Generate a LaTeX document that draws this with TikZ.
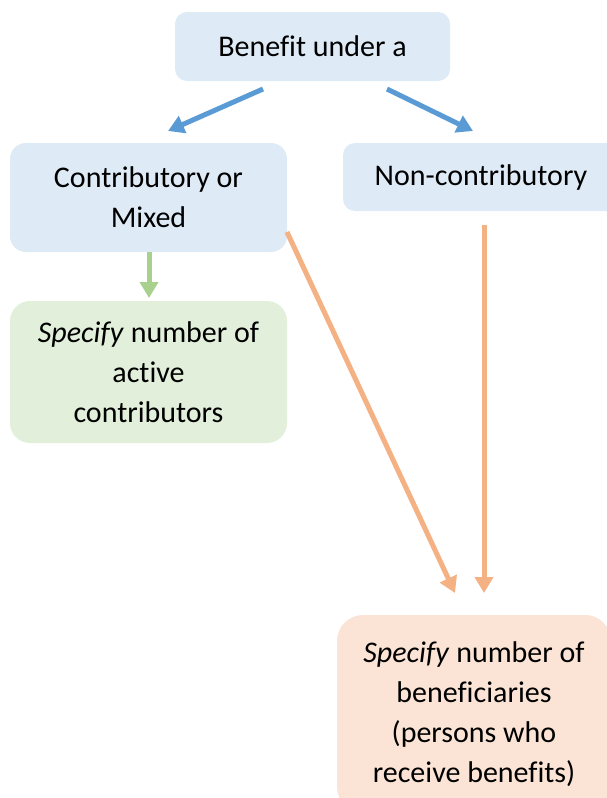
\documentclass[tikz,border=0pt]{standalone}
\usepackage{fontspec}
\setmainfont[Ligatures=CommonOff]{Carlito}
\usetikzlibrary{arrows.meta}

\definecolor{boxblue}{HTML}{DEEAF6}
\definecolor{boxgreen}{HTML}{E2EFDA}
\definecolor{boxorange}{HTML}{FBE4D5}
\definecolor{lineblue}{HTML}{5B9BD5}
\definecolor{linegreen}{HTML}{A9D18E}
\definecolor{lineorange}{HTML}{F4B183}

\begin{document}
\begin{tikzpicture}[x=1pt,y=-1pt,
    box/.style={rounded corners=12pt,align=center,inner sep=0pt,
        font=\fontsize{30}{40}\selectfont},
    link/.style={line width=5pt,-{Triangle[length=16pt,width=18pt]}}]
    \useasboundingbox (0,0) rectangle (606,798);
    % boxes
    \node[box,fill=boxblue,minimum width=275pt,minimum height=69pt] (benefit) at (312.5,46.5) {Benefit under a};
    \node[box,fill=boxblue,rounded corners=16pt,minimum width=277pt,minimum height=109pt] (contrib) at (148.5,197.5) {Contributory or\\Mixed};
    \node[box,fill=boxblue,minimum width=276pt,minimum height=68pt] (noncontrib) at (481,177) {Non-contributory};
    \node[box,fill=boxgreen,rounded corners=20pt,minimum width=277pt,minimum height=142pt] (active) at (148.5,372) {\textit{Specify} number of\\active\\contributors};
    \node[box,fill=boxorange,rounded corners=26pt,minimum width=274pt,minimum height=198pt] (benef) at (474,714) {\textit{Specify} number of\\beneficiaries\\(persons who\\receive benefits)};
    % arrow ends
    \coordinate (bl) at (263,89);
    \coordinate (bltip) at (168,131);
    \coordinate (br) at (387,89);
    \coordinate (brtip) at (473,131);
    \coordinate (gtip) at (149,298);
    \coordinate (od) at (287,232);
    \coordinate (odtip) at (455,593);
    \coordinate (ov) at (484,225);
    \coordinate (ovtip) at (484,593);
    % arrows
    \draw[link,lineblue] (bl)--(bltip);
    \draw[link,lineblue] (br)--(brtip);
    \draw[link,linegreen] (contrib.south -| gtip)--(gtip);
    \draw[link,lineorange] (od)--(odtip);
    \draw[link,lineorange] (ov)--(ovtip);
\end{tikzpicture}
\end{document}
